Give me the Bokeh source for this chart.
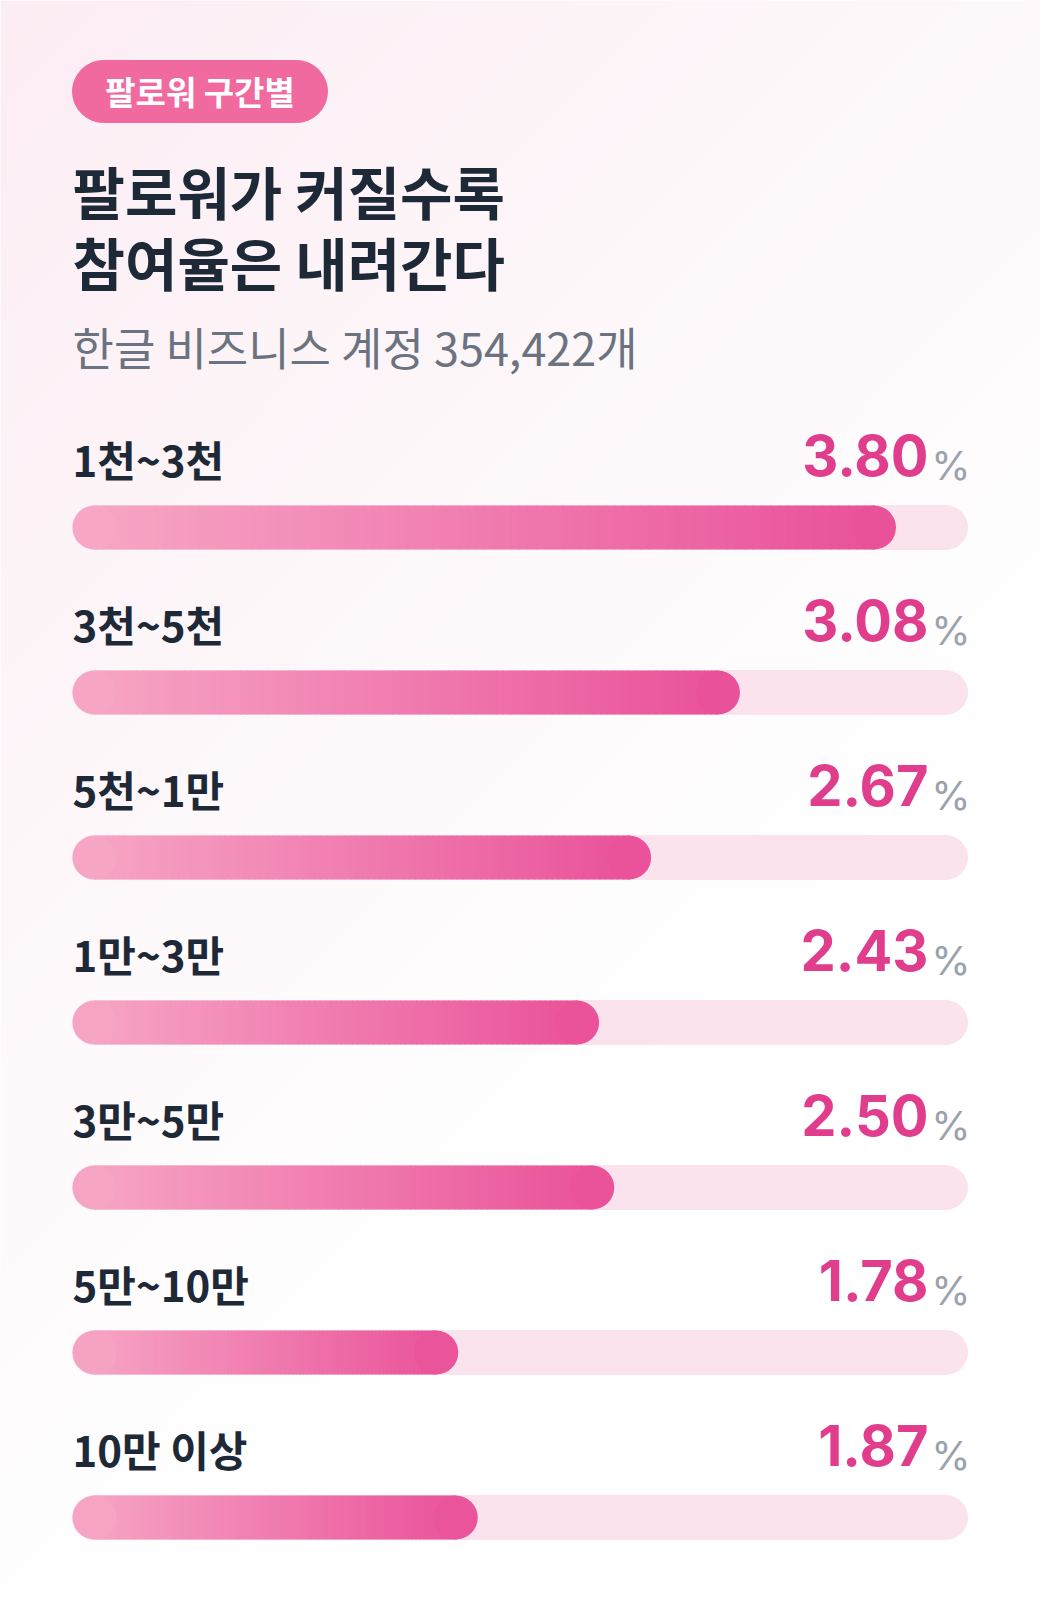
import numpy as np
from bokeh.plotting import figure
from bokeh.models import Range1d, Label, ColumnDataSource
from bokeh.core.properties import value
from bokeh.embed import file_html
from bokeh.resources import INLINE

# data
categories = ["1천~3천", "3천~5천", "5천~1만", "1만~3만", "3만~5만", "5만~10만", "10만 이상"]
rates = [3.80, 3.08, 2.67, 2.43, 2.50, 1.78, 1.87]
rate_labels = ["3.80", "3.08", "2.67", "2.43", "2.50", "1.78", "1.87"]
unit = "%"
badge_text = "팔로워 구간별"
title_lines = ["팔로워가 커질수록", "참여율은 내려간다"]
subtitle = "한글 비즈니스 계정 354,422개"
scale_max = 4.13

# layout (screen pixels of the page, y from the top)
W, H = 1040, 1602
left_px = 72          # where the tracks start
track_px = 895        # track length in px
px = scale_max / track_px   # value units per pixel
row0, row_step = 527, 165
bar_h = 44

KR = "Noto Sans CJK KR"
start_col = np.array([247, 168, 198])
end_col = np.array([233, 79, 152])


def sy(y):
    # page y (from top) -> data y
    return H - y


def mix(c1, c2, t):
    c = c1 * (1 - t) + c2 * t
    return "#%02x%02x%02x" % tuple(int(round(v)) for v in c)


p = figure(width=W, height=H, output_backend="svg", toolbar_location=None,
           x_range=Range1d(-left_px * px, (W - left_px) * px),
           y_range=Range1d(0, H), min_border=0, tools="")
p.axis.visible = False
p.grid.visible = False
p.outline_line_color = None
p.background_fill_color = "white"
p.border_fill_color = "white"

# soft pink wash from the top-left corner
nx, ny = 260, 400
gx = np.linspace(0, W, nx)
gy = np.linspace(H, 0, ny)
GX, GY = np.meshgrid(gx, gy)
t = np.clip((GX + GY) / 1700.0, 0, 1) ** 0.8
pink = np.array([252, 236, 243])
img = np.empty((ny, nx), dtype=np.uint32)
view = img.view(dtype=np.uint8).reshape((ny, nx, 4))
for k in range(3):
    view[:, :, k] = (pink[k] * (1 - t) + 255 * t).astype(np.uint8)
view[:, :, 3] = 255
p.image_rgba(image=[img], x=-left_px * px, y=0, dw=W * px, dh=H)

# badge
badge_right = (327 - left_px) * px
p.hbar(y=[sy(91)], left=[0], right=[badge_right], height=62,
       color="#f06aa0", border_radius=31)
p.add_layout(Label(x=badge_right / 2, y=sy(90), text=badge_text, text_align="center",
                   text_baseline="middle", text_font=KR, text_font_style="bold",
                   text_font_size="33px", text_color="white"))

# title and subtitle
for line, base in zip(title_lines, [189, 260]):
    p.add_layout(Label(x=0, y=sy(base), text=line, text_font=KR, text_font_style="bold",
                       text_font_size="57px", text_color="#1e2938",
                       text_baseline="alphabetic"))
p.add_layout(Label(x=0, y=sy(346), text=subtitle, text_font=KR,
                   text_font_size="45px", text_color="#6b7280",
                   text_baseline="alphabetic"))

# rows
centers = [row0 + row_step * i for i in range(len(categories))]
ys = [sy(c) for c in centers]

p.hbar(y=ys, left=0, right=scale_max, height=bar_h, color="#fbe3ee",
       border_radius=bar_h // 2)

r = bar_h / 2 * px
n_slices = 90
sl_y, sl_l, sl_r, sl_c = [], [], [], []
cap_x, cap_y, cap_c = [], [], []
for v, y in zip(rates, ys):
    edges = np.linspace(r, v - r, n_slices + 1)
    for a, b in zip(edges[:-1], edges[1:]):
        sl_y.append(y)
        sl_l.append(a)
        sl_r.append(b + 0.8 * px)
        sl_c.append(mix(start_col, end_col, ((a + b) / 2) / v))
    cap_x += [r, v - r]
    cap_y += [y, y]
    cap_c += [mix(start_col, end_col, r / v), mix(start_col, end_col, (v - r) / v)]

p.hbar(y=sl_y, left=sl_l, right=sl_r, height=bar_h, color=sl_c, line_color=None)
p.scatter(x=cap_x, y=cap_y, size=bar_h, color=cap_c, line_color=None)

src = ColumnDataSource(dict(
    x=[0] * len(categories), end=[scale_max] * len(categories),
    y_lab=[sy(c - 69) for c in centers],
    y_val=[sy(c - 72) for c in centers],
    y_pct=[sy(c - 62) for c in centers],
    cat=categories, val=rate_labels, pct=[unit] * len(categories)))

p.text(x="x", y="y_lab", text="cat", source=src, text_font=value(KR),
       text_font_style="bold", text_font_size="42px", text_color="#1e2938",
       text_baseline="alphabetic", text_align="left")
p.text(x="end", y="y_val", text="val", source=src, x_offset=-39,
       text_font=value("Inter"), text_font_style="bold", text_font_size="56px",
       text_color="#e03e8d", text_baseline="alphabetic", text_align="right")
p.text(x="end", y="y_pct", text="pct", source=src, x_offset=3,
       text_font=value("Inter"), text_font_size="40px", text_color="#9aa3ad",
       text_baseline="alphabetic", text_align="right")

open("out.html", "w").write(file_html(p, INLINE))
